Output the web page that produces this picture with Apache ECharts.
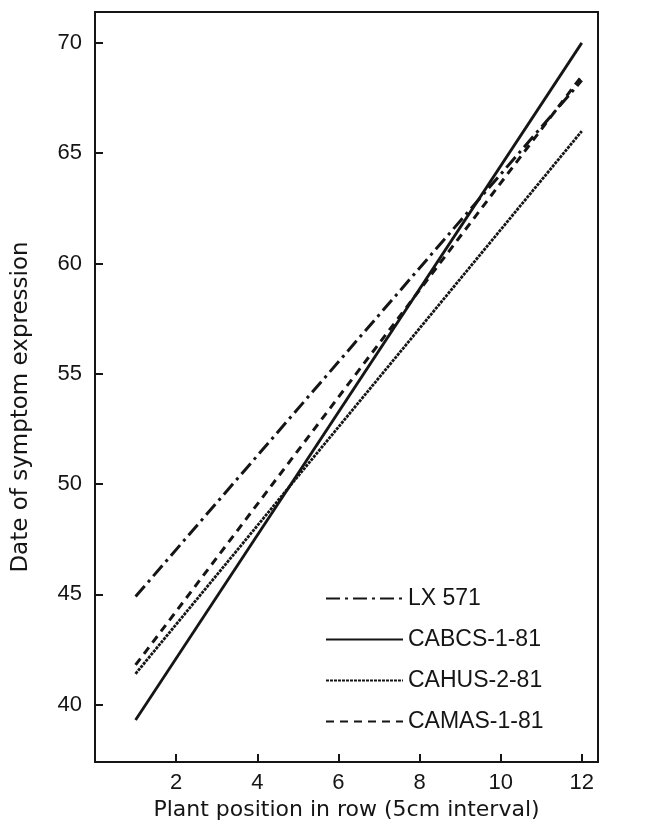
<!DOCTYPE html>
<html>
<head>
<meta charset="utf-8">
<script src="https://cdn.jsdelivr.net/npm/echarts@6/dist/echarts.min.js"></script>
<style>
  html, body { margin: 0; padding: 0; background: #fff; }
  #chart { width: 658px; height: 828px; }
</style>
</head>
<body>
<div id="chart"></div>
<script>
var positions = [1, 12];
var lx571 = [44.9, 68.3];
var cabcs = [39.3, 70.0];
var cahus = [41.4, 66.0];
var camas = [41.8, 68.5];

var yTicks = [40, 45, 50, 55, 60, 65, 70];

function pairs(vals) {
    return positions.map(function (p, i) { return [p, vals[i]]; });
}

var ink = '#151515';
var font = 'Liberation Sans';
var nameFont = 'DejaVu Sans';

var dom = document.getElementById('chart');
var myChart = echarts.init(dom);

var option = {
    animation: false,
    backgroundColor: '#fff',
    grid: {
        left: 95, right: 60, top: 12, bottom: 66,
        show: true,
        borderColor: ink,
        borderWidth: 2
    },
    legend: {
        orient: 'vertical',
        left: 320,
        top: 582,
        itemWidth: 77,
        itemHeight: 14,
        itemGap: 18,
        itemStyle: { opacity: 0, borderWidth: 0 },
        textStyle: { fontFamily: font, fontSize: 23, color: ink },
        data: ['LX 571', 'CABCS-1-81', 'CAHUS-2-81', 'CAMAS-1-81']
    },
    xAxis: {
        type: 'value',
        min: 0,
        max: 12.4,
        interval: 2,
        splitLine: { show: false },
        axisLine: { lineStyle: { color: ink, width: 2 } },
        axisTick: { inside: true, length: 8, lineStyle: { color: ink, width: 2 } },
        axisLabel: {
            fontFamily: font, fontSize: 22, color: ink, margin: 10,
            formatter: function (v) { return v === 0 ? '' : v; }
        },
        name: 'Plant position in row (5cm interval)',
        nameLocation: 'middle',
        nameGap: 35,
        nameTextStyle: { fontFamily: nameFont, fontSize: 22, color: ink }
    },
    yAxis: {
        type: 'value',
        min: 37.4,
        max: 71.4,
        splitLine: { show: false },
        axisLine: { lineStyle: { color: ink, width: 2 } },
        axisTick: { inside: true, length: 8, customValues: yTicks, lineStyle: { color: ink, width: 2 } },
        axisLabel: { fontFamily: font, fontSize: 22, color: ink, margin: 13, customValues: yTicks },
        name: 'Date of symptom expression',
        nameLocation: 'middle',
        nameGap: 62,
        nameTextStyle: { fontFamily: nameFont, fontSize: 23, color: ink, padding: [0, 40, 0, 0] }
    },
    series: [
        {
            name: 'LX 571', type: 'line', symbol: 'none', data: pairs(lx571),
            lineStyle: { color: ink, width: 3, type: [14, 5, 3, 5] }, itemStyle: { color: ink }
        },
        {
            name: 'CABCS-1-81', type: 'line', symbol: 'none', data: pairs(cabcs),
            lineStyle: { color: ink, width: 2.8, type: 'solid' }, itemStyle: { color: ink }
        },
        {
            name: 'CAHUS-2-81', type: 'line', symbol: 'none', data: pairs(cahus),
            lineStyle: { color: ink, width: 2.8, type: [3, 1] }, itemStyle: { color: ink }
        },
        {
            name: 'CAMAS-1-81', type: 'line', symbol: 'none', data: pairs(camas),
            lineStyle: { color: ink, width: 3, type: [8, 6] }, itemStyle: { color: ink }
        }
    ]
};

if (option && typeof option === 'object') {
    myChart.setOption(option, true);
}
</script>
</body>
</html>
